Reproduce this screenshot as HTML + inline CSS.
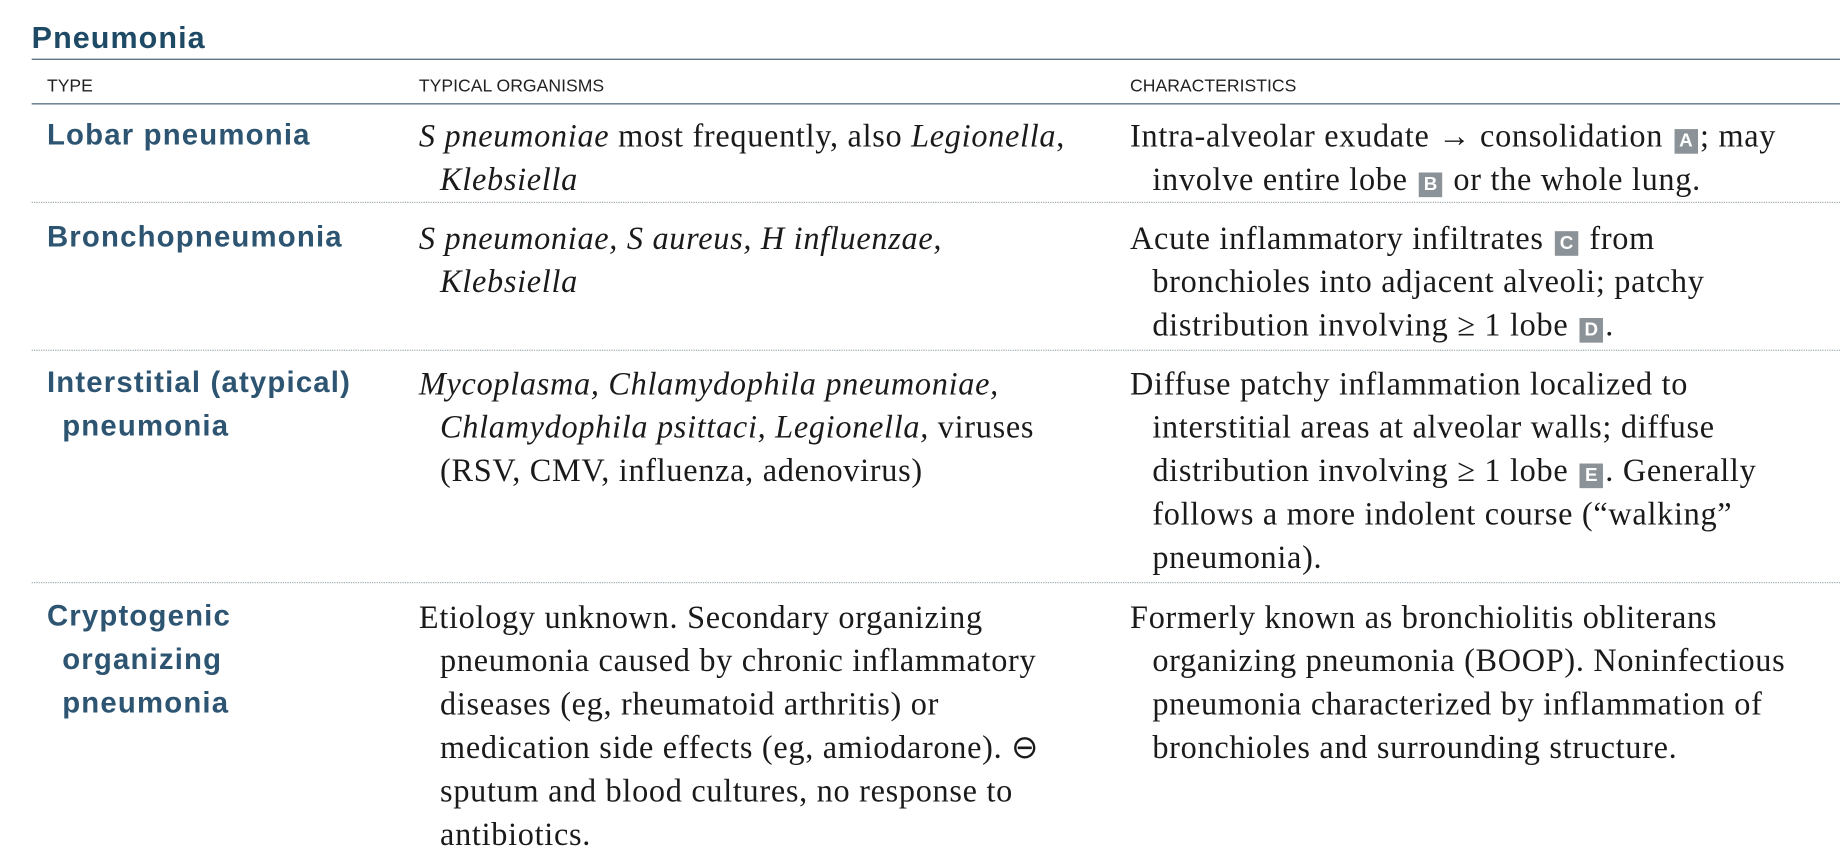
<!DOCTYPE html>
<html><head><meta charset="utf-8"><style>
html,body{margin:0;padding:0;background:#fff;width:1840px;height:864px;overflow:hidden}
#wrap{position:absolute;left:0;top:0;width:1568px;height:736.3px;transform:scale(1.17347);transform-origin:0 0}
.l{position:absolute;white-space:nowrap;line-height:1;margin-top:2px}
.ser{font-family:"Liberation Serif",serif;font-size:27.5px;letter-spacing:0.6px;color:#1a1a1a}
.lab{font-family:"Liberation Sans",sans-serif;font-weight:bold;font-size:25px;letter-spacing:1px;color:#2d5572}
.hd{font-family:"Liberation Sans",sans-serif;font-size:15px;color:#222}
i{font-style:italic}
.bx{display:inline-block;width:20px;height:21px;background:#8c9398;color:#fff;font-family:"Liberation Sans",sans-serif;font-weight:bold;font-size:16px;letter-spacing:0;line-height:21px;text-align:center;vertical-align:0;margin:0 2px}
.rule{position:absolute;left:27px;width:1541px;height:0;border-top:1.6px solid #3f5d70}
.dot{position:absolute;left:27px;width:1541px;height:0;border-top:1.2px dotted #9aa6ad}
</style></head><body>
<div id="wrap">
<div class="l lab" style="left:27px;top:17px;font-size:26px;letter-spacing:0.9px;color:#1e4a66">Pneumonia</div>
<div class="rule" style="top:50px"></div>
<div class="l hd" style="left:40px;top:64px">TYPE</div>
<div class="l hd" style="left:357px;top:64px">TYPICAL ORGANISMS</div>
<div class="l hd" style="left:963px;top:64px">CHARACTERISTICS</div>
<div class="rule" style="top:88px"></div>

<div>
<div class="l lab" style="left:40px;top:101px">Lobar pneumonia</div>
<div class="l ser" style="left:357px;top:100px"><i>S pneumoniae</i> most frequently, also <i>Legionella</i>,</div>
<div class="l ser" style="left:375px;top:137px"><i>Klebsiella</i></div>
<div class="l ser" style="left:963px;top:100px">Intra-alveolar exudate → consolidation <span class="bx">A</span>; may</div>
<div class="l ser" style="left:982px;top:137px">involve entire lobe <span class="bx">B</span> or the whole lung.</div>
</div>
<div class="dot" style="top:172px"></div>

<div>
<div class="l lab" style="left:40px;top:188px">Bronchopneumonia</div>
<div class="l ser" style="left:357px;top:187px"><i>S pneumoniae, S aureus, H influenzae,</i></div>
<div class="l ser" style="left:375px;top:224px"><i>Klebsiella</i></div>
<div class="l ser" style="left:963px;top:187px">Acute inflammatory infiltrates <span class="bx">C</span> from</div>
<div class="l ser" style="left:982px;top:224px">bronchioles into adjacent alveoli; patchy</div>
<div class="l ser" style="left:982px;top:261px">distribution involving ≥ 1 lobe <span class="bx">D</span>.</div>
</div>
<div class="dot" style="top:298px"></div>

<div>
<div class="l lab" style="left:40px;top:312px">Interstitial (atypical)</div>
<div class="l lab" style="left:53px;top:349px">pneumonia</div>
<div class="l ser" style="left:357px;top:311px"><i>Mycoplasma, Chlamydophila pneumoniae,</i></div>
<div class="l ser" style="left:375px;top:348px"><i>Chlamydophila psittaci, Legionella,</i> viruses</div>
<div class="l ser" style="left:375px;top:385px">(RSV, CMV, influenza, adenovirus)</div>
<div class="l ser" style="left:963px;top:311px">Diffuse patchy inflammation localized to</div>
<div class="l ser" style="left:982px;top:348px">interstitial areas at alveolar walls; diffuse</div>
<div class="l ser" style="left:982px;top:385px">distribution involving ≥ 1 lobe <span class="bx">E</span>. Generally</div>
<div class="l ser" style="left:982px;top:422px">follows a more indolent course (“walking”</div>
<div class="l ser" style="left:982px;top:459px">pneumonia).</div>
</div>
<div class="dot" style="top:496px"></div>

<div>
<div class="l lab" style="left:40px;top:511px">Cryptogenic</div>
<div class="l lab" style="left:53px;top:548px">organizing</div>
<div class="l lab" style="left:53px;top:585px">pneumonia</div>
<div class="l ser" style="left:357px;top:510px">Etiology unknown. Secondary organizing</div>
<div class="l ser" style="left:375px;top:547px">pneumonia caused by chronic inflammatory</div>
<div class="l ser" style="left:375px;top:584px">diseases (eg, rheumatoid arthritis) or</div>
<div class="l ser" style="left:375px;top:621px">medication side effects (eg, amiodarone). ⊖</div>
<div class="l ser" style="left:375px;top:658px">sputum and blood cultures, no response to</div>
<div class="l ser" style="left:375px;top:695px">antibiotics.</div>
<div class="l ser" style="left:963px;top:510px">Formerly known as bronchiolitis obliterans</div>
<div class="l ser" style="left:982px;top:547px">organizing pneumonia (BOOP). Noninfectious</div>
<div class="l ser" style="left:982px;top:584px">pneumonia characterized by inflammation of</div>
<div class="l ser" style="left:982px;top:621px">bronchioles and surrounding structure.</div>
</div>
</div>
</body></html>
